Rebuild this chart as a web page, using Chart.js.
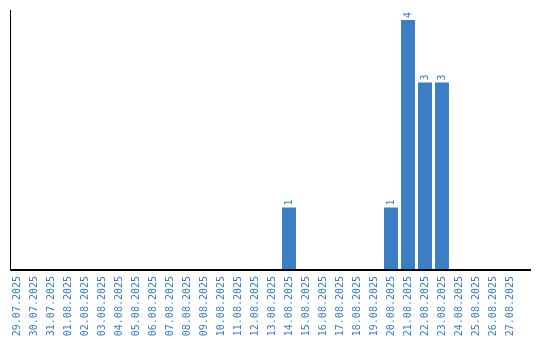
<!DOCTYPE html>
<html>
<head>
<meta charset="utf-8">
<script src="https://cdn.jsdelivr.net/npm/chart.js@4/dist/chart.umd.min.js"></script>
<style>
html,body{margin:0;padding:0;background:#fff;}
#wrap{width:540px;height:340px;position:relative;}
</style>
</head>
<body>
<div id="wrap"><canvas id="c" width="540" height="340"></canvas></div>
<script>
const categories = ["29.07.2025","30.07.2025","31.07.2025","01.08.2025","02.08.2025","03.08.2025","04.08.2025","05.08.2025","06.08.2025","07.08.2025","08.08.2025","09.08.2025","10.08.2025","11.08.2025","12.08.2025","13.08.2025","14.08.2025","15.08.2025","16.08.2025","17.08.2025","18.08.2025","19.08.2025","20.08.2025","21.08.2025","22.08.2025","23.08.2025","24.08.2025","25.08.2025","26.08.2025","27.08.2025"];
const counts = [0,0,0,0,0,0,0,0,0,0,0,0,0,0,0,0,1,0,0,0,0,0,1,4,3,3,0,0,0,0];

const BLUE = '#3b7ec4';
const LABEL_BLUE = '#3a7bc8';

const decorPlugin = {
  id: 'decor',
  afterDatasetsDraw(chart) {
    const ctx = chart.ctx;
    const meta = chart.getDatasetMeta(0);
    ctx.save();
    ctx.fillStyle = LABEL_BLUE;
    ctx.font = '10px "DejaVu Sans Mono", monospace';
    ctx.textAlign = 'left';
    ctx.textBaseline = 'middle';
    meta.data.forEach((bar, i) => {
      const v = counts[i];
      if (!v) return;
      ctx.save();
      ctx.translate(bar.x, bar.y - 2);
      ctx.rotate(-Math.PI / 2);
      ctx.fillText(String(v), 0, 0);
      ctx.restore();
    });
    const ca = chart.chartArea;
    ctx.fillStyle = '#000';
    ctx.fillRect(10, 10, 1, ca.bottom - 10);
    ctx.fillRect(10, ca.bottom - 1, 521, 2);
    ctx.restore();
  }
};

new Chart(document.getElementById('c'), {
  type: 'bar',
  data: {
    labels: categories,
    datasets: [{
      data: counts,
      backgroundColor: BLUE,
      borderWidth: 0,
      barPercentage: 0.82,
      categoryPercentage: 1.0
    }]
  },
  options: {
    responsive: false,
    animation: false,
    devicePixelRatio: 1,
    layout: { padding: { left: 8.5, right: 21.5, top: 20, bottom: 0 } },
    plugins: { legend: { display: false }, tooltip: { enabled: false } },
    scales: {
      x: {
        offset: true,
        grid: { display: false, drawTicks: false },
        border: { display: false },
        ticks: {
          autoSkip: false,
          maxRotation: 90,
          minRotation: 90,
          padding: 6,
          color: LABEL_BLUE,
          font: { family: '"DejaVu Sans Mono", monospace', size: 10 }
        },
        afterFit(scale) { scale.height = 70; }
      },
      y: {
        display: false,
        min: 0,
        max: 4
      }
    }
  },
  plugins: [decorPlugin]
});
</script>
</body>
</html>
